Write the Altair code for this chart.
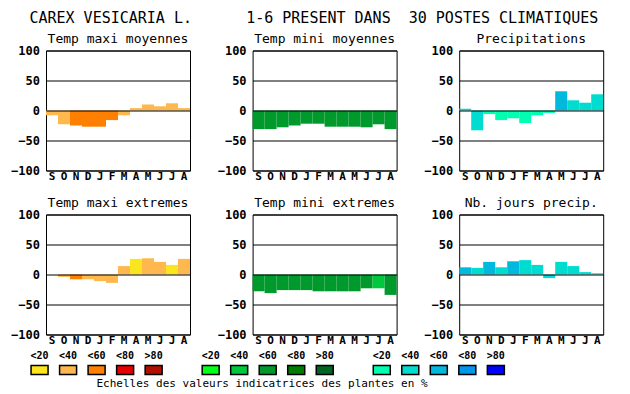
import altair as alt
import pandas as pd

MONO = "DejaVu Sans Mono"

months = ["Sept", "Oct", "Nov", "Dec", "Janv", "Fev", "Mars", "Avr", "Mai", "Juin", "Juil", "Aout"]
levels = ["<20", "<40", "<60", "<80", ">80"]
families = ["c", "f", "h"]

warm_colors = ["#fae51e", "#ffb84d", "#ff8000", "#e60000", "#b00f00"]
green_colors = ["#00ff19", "#00c83c", "#00992b", "#007d00", "#006423"]
blue_colors = ["#00ffb0", "#00dcd0", "#00b9dc", "#0096eb", "#0000ff"]

tmax_moy = [-8, -23, -25, -27, -27, -16, -8, 4, 10, 7, 12, 4]
tmax_moy_cls = ["c2", "c2", "c3", "c3", "c3", "c3", "c2", "c2", "c2", "c2", "c2", "c2"]
tmin_moy = [-31, -31, -28, -25, -22, -22, -27, -27, -27, -28, -23, -31]
tmin_moy_cls = ["f3"] * 12
precip = [3, -33, -6, -16, -13, -21, -8, -4, 32, 17, 13, 27]
precip_cls = ["h2", "h2", "h1", "h1", "h1", "h1", "h1", "h1", "h3", "h2", "h2", "h2"]
tmax_ext = [0, -4, -8, -8, -11, -14, 14, 26, 27, 21, 16, 26]
tmax_ext_cls = ["c2", "c2", "c3", "c2", "c2", "c2", "c2", "c1", "c2", "c2", "c1", "c2"]
tmin_ext = [-28, -31, -26, -26, -26, -28, -28, -28, -28, -23, -23, -34]
tmin_ext_cls = ["f3"] * 10 + ["f2", "f3"]
jours = [12, 11, 21, 12, 22, 24, 16, -6, 21, 14, 4, 2]
jours_cls = ["h3", "h2", "h3", "h2", "h3", "h2", "h2", "h2", "h2", "h2", "h2", "h2"]

cls_domain = [f + str(i + 1) for f in families for i in range(5)]
cls_range = warm_colors + green_colors + blue_colors
color_scale = alt.Scale(domain=cls_domain, range=cls_range)


def panel(title, vals, cls):
    df = pd.DataFrame({"mois": months, "val": vals, "cls": cls})
    return alt.Chart(df).mark_bar(strokeWidth=0).encode(
        x=alt.X("mois:N", sort=months,
                scale=alt.Scale(paddingInner=0, paddingOuter=0),
                axis=alt.Axis(title=None, labelExpr="substring(datum.label,0,1)",
                              labelAngle=0, ticks=False, domain=False, labelPadding=0,
                              labelFont=MONO, labelFontSize=11, labelFontWeight="bold",
                              labelColor="black", grid=False)),
        y=alt.Y("val:Q", scale=alt.Scale(domain=[-100, 100], nice=False),
                axis=alt.Axis(title=None, values=[-100, -50, 0, 50, 100], grid=True,
                              gridColor="black", gridOpacity=1, gridWidth=1,
                              ticks=False, domain=False, labelPadding=6.5,
                              labelFont=MONO, labelFontSize=12, labelFontWeight="bold",
                              labelColor="black", zindex=1)),
        color=alt.Color("cls:N", scale=color_scale, legend=None),
    ).properties(
        width=144, height=120,
        title=alt.TitleParams(title, frame="group", font=MONO, fontSize=13,
                              fontWeight="normal", color="black", offset=-1),
    )


row1 = alt.hconcat(
    panel("Temp maxi moyennes", tmax_moy, tmax_moy_cls),
    panel("Temp mini moyennes", tmin_moy, tmin_moy_cls),
    panel("Precipitations", precip, precip_cls),
    spacing=25.6,
)
row2 = alt.hconcat(
    panel("Temp maxi extremes", tmax_ext, tmax_ext_cls),
    panel("Temp mini extremes", tmin_ext, tmin_ext_cls),
    panel("Nb. jours precip.", jours, jours_cls),
    spacing=25.6,
)

# legend: 15 colour classes, with one empty slot between the three families
leg_order = ["c1", "c2", "c3", "c4", "c5", "_1", "f1", "f2", "f3", "f4", "f5", "_2",
             "h1", "h2", "h3", "h4", "h5"]
leg_df = pd.DataFrame({
    "cls": cls_domain,
    "lvl": [l for _ in families for l in levels],
})
ysc = alt.Scale(type="point", domain=["lab", "box"], padding=0)
leg_base = alt.Chart(leg_df).encode(
    x=alt.X("cls:N", sort=leg_order,
            scale=alt.Scale(domain=leg_order, range=[-20.7, 464.1],
                            paddingInner=0, paddingOuter=0),
            axis=None),
)
leg_txt = leg_base.mark_text(font=MONO, fontSize=10, fontWeight="bold", color="black",
                             baseline="middle", align="center").encode(
    text="lvl:N",
    y=alt.YDatum("lab", type="nominal", scale=ysc, axis=None),
)
leg_box = leg_base.mark_point(shape="M-1,-0.53L1,-0.53L1,0.53L-1,0.53Z", size=289,
                              filled=True, opacity=1, stroke="black", strokeWidth=1.5).encode(
    fill=alt.Fill("cls:N", scale=color_scale, legend=None),
    y=alt.YDatum("box", type="nominal", scale=ysc, axis=None),
)
legend = alt.layer(leg_txt, leg_box).properties(
    width=444, height=14,
    view=alt.ViewBackground(strokeOpacity=0),
    title=alt.TitleParams("Echelles des valeurs indicatrices des plantes en %",
                          orient="bottom", frame="group", font=MONO, fontSize=11,
                          fontWeight="normal", color="black", offset=0, dx=-6),
)

NB = "\u00a0"
main_title = ("CAREX" + NB + "VESICARIA" + NB + "L." + NB * 6 + "1-6" + NB + "PRESENT" + NB
              + "DANS" + NB * 2 + "30" + NB + "POSTES" + NB + "CLIMATIQUES")

panels = alt.vconcat(row1, row2, spacing=13)

chart = alt.vconcat(
    panels, legend, spacing=4.5,
    title=alt.TitleParams(main_title, font=MONO, fontSize=15, fontWeight="normal",
                          color="black", anchor="middle", dx=7, offset=6),
).properties(
    padding={"left": 2, "top": 2.5, "right": 5, "bottom": 0},
    background="white",
).configure_view(
    stroke="black", strokeWidth=1,
)

chart.save("out.html", embed_options={"renderer": "svg", "actions": False})
